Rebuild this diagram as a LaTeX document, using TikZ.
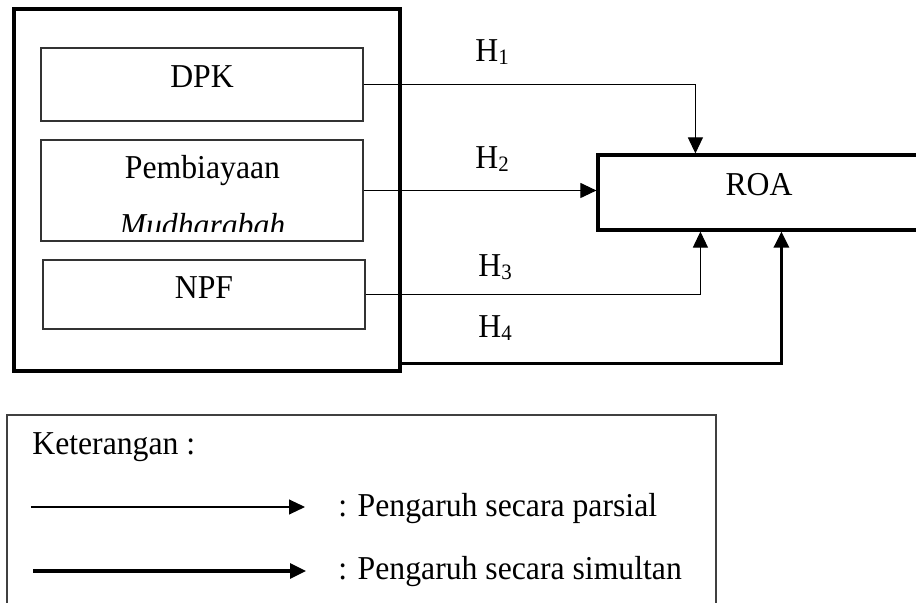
\documentclass[tikz,border=0pt]{standalone}
\usepackage{fontspec}
\setmainfont{Liberation Serif}[FakeStretch=0.95]
\usepackage{tikz}
\usepackage{xcolor}
\usetikzlibrary{arrows.meta}

\newcommand{\hyp}[1]{H\raisebox{-1.7pt}{\fontsize{12.5}{12.5}\selectfont #1}}

\begin{document}
\begin{tikzpicture}[
    font=\fontsize{19}{22.8}\selectfont,
    >={Triangle[length=0.32cm,width=0.3cm]},
    fineline/.style={line width=0.6pt},
    heavyline/.style={line width=1.8pt},
    varbox/.style={draw=black!80,fineline,rectangle,inner sep=0pt,minimum width=6.44cm},
    lbl/.style={inner sep=0pt,anchor=base west}
  ]
  \useasboundingbox (0,0) rectangle (18.32,12.06);

  \node (ind) [draw,heavyline,rectangle,minimum width=7.72cm,minimum height=7.24cm] at (4.14,8.26) {};
  \node (dpk) [varbox,minimum height=1.46cm] at (4.04,10.37) {};
  \node (pm) [varbox,minimum height=2.02cm] at (4.04,8.25) {};
  \node (npf) [varbox,minimum height=1.38cm] at (4.08,6.17) {};
  \node (roa) [draw,heavyline,rectangle,minimum width=6.44cm,minimum height=1.50cm] at (15.18,8.21) {};

  \node (dpkt) [anchor=base] at (4.04,10.31) {DPK};
  \node (pmt) [anchor=base] at (4.05,8.48) {Pembiayaan};
  \begin{scope}
    \clip (0.82,7.42) rectangle (7.26,9.26);
    \node (mdt) [anchor=base] at (4.05,7.32) {\itshape Mudharabah};
  \end{scope}
  \node (npft) [anchor=base] at (4.08,6.08) {NPF};
  \node (roat) [anchor=base] at (15.18,8.14) {ROA};

  \node (h1) [lbl] at (9.50,10.82) {\hyp{1}};
  \node (h2) [lbl] at (9.50,8.68) {\hyp{2}};
  \node (h3) [lbl] at (9.56,6.52) {\hyp{3}};
  \node (h4) [lbl] at (9.56,5.30) {\hyp{4}};

  \path (node cs:name=roa,anchor=north west) +(1.98,0) coordinate (roan1) {};
  \draw[->,fineline] (dpk.east) -| (roan1);
  \draw[->,fineline] (pm.east) -- (pm.east -| roa.west);
  \path (node cs:name=roa,anchor=south west) +(2.08,0) coordinate (roas3) {};
  \draw[->,fineline] (npf.east) -| (roas3);
  \path (node cs:name=ind,anchor=south east) +(0,0.18) coordinate (indo) {};
  \path (node cs:name=roa,anchor=south west) +(3.70,0) coordinate (roas4) {};
  \draw[->,heavyline] (indo) -| (roas4);

  \node (ket) [draw=black!75,fineline,rectangle,minimum width=14.18cm,minimum height=4.06cm] at (7.23,1.73) {};
  \node (kett) [lbl] at (0.64,2.96) {Keterangan :};
  \coordinate (pa) at (0.62,1.92);
  \coordinate (pb) at (6.10,1.92);
  \draw[->,fineline] (pa) -- (pb);
  \node (pat) [lbl] at (6.76,1.72) {: Pengaruh secara parsial};
  \coordinate (sa) at (0.66,0.64);
  \coordinate (sb) at (6.12,0.64);
  \draw[->,heavyline] (sa) -- (sb);
  \node (sat) [lbl] at (6.76,0.46) {: Pengaruh secara simultan};
\end{tikzpicture}
\end{document}
